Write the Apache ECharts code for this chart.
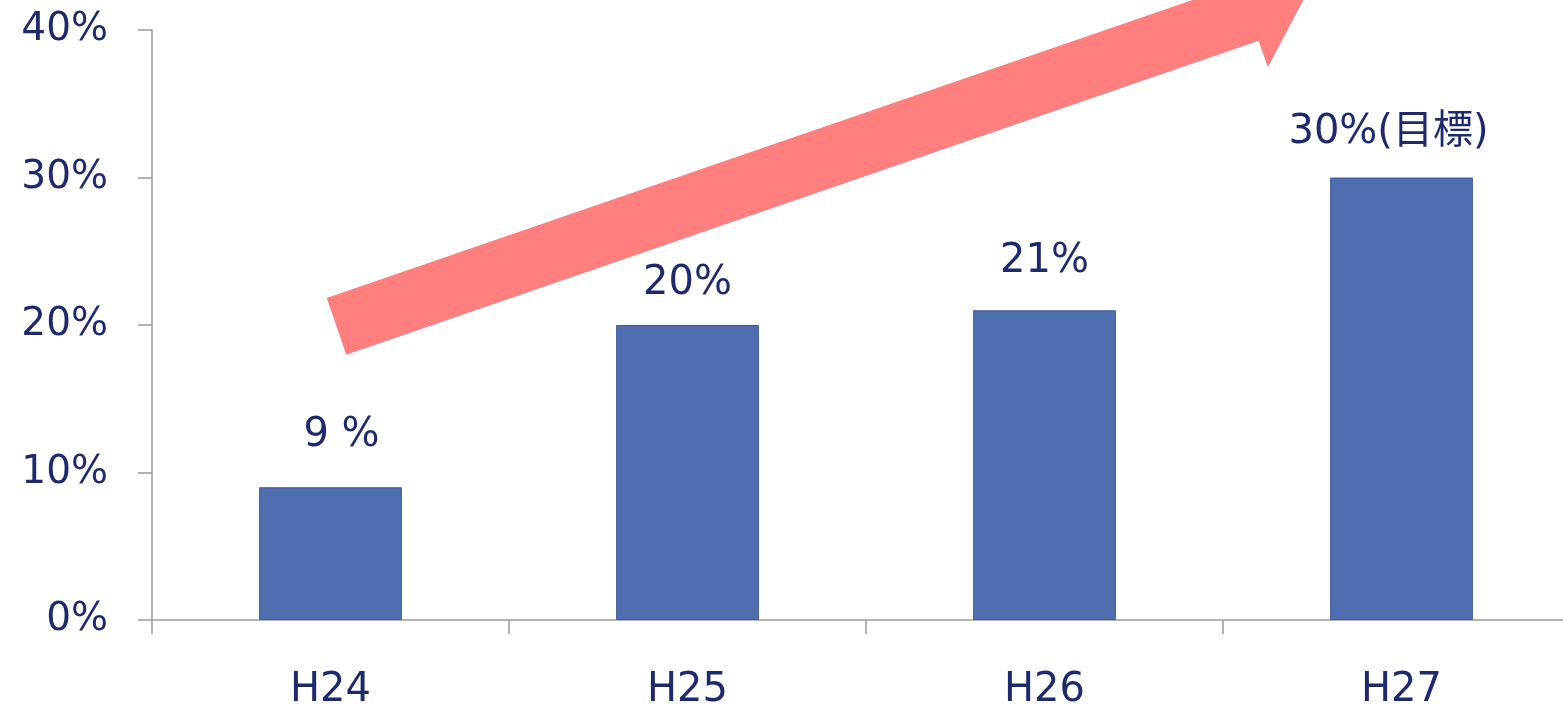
<!DOCTYPE html>
<html>
<head>
<meta charset="utf-8">
<script src="https://cdn.jsdelivr.net/npm/echarts@6/dist/echarts.min.js"></script>
<style>
html,body{margin:0;padding:0;background:#fff;}
#c{width:1563px;height:706px;}
</style>
</head>
<body>
<div id="c"></div>
<script>
var categories = ['H24', 'H25', 'H26', 'H27'];
var values = [9, 20, 21, 30];
var barLabels = ['9 %', '20%', '21%', '30%(目標)'];
var yTicks = [0, 10, 20, 30, 40];

var FONT = '"DejaVu Sans", Verdana, "Noto Sans CJK JP", sans-serif';
var TEXT = '#1f2a6e';
var AXIS = '#9a9a9a';
var labelShift = [[11, -7], [0, 4], [0, -4], [-13, 0]];

var chart = echarts.init(document.getElementById('c'), null, {renderer: 'canvas'});

var seriesData = values.map(function (v, i) {
  return {value: v, label: {offset: labelShift[i]}};
});

var option = {
  animation: false,
  backgroundColor: '#ffffff',
  grid: {left: 152, top: 30, width: 1428, height: 590, containLabel: false, outerBoundsMode: 'none'},
  xAxis: {
    type: 'category',
    data: categories,
    boundaryGap: true,
    axisLine: {show: true, lineStyle: {color: AXIS, width: 1.5}},
    axisTick: {show: true, length: 14, alignWithLabel: false, lineStyle: {color: AXIS, width: 1.5}},
    axisLabel: {color: TEXT, fontSize: 40, fontFamily: FONT, margin: 51}
  },
  yAxis: {
    type: 'value',
    min: yTicks[0],
    max: yTicks[yTicks.length - 1],
    interval: 10,
    axisLine: {show: true, lineStyle: {color: AXIS, width: 1.5}},
    axisTick: {show: true, length: 14, lineStyle: {color: AXIS, width: 1.5}},
    splitLine: {show: false},
    axisLabel: {color: TEXT, fontSize: 39, fontFamily: FONT, margin: 44, formatter: '{value}%'}
  },
  series: [{
    type: 'bar',
    data: seriesData,
    barWidth: '40%',
    itemStyle: {color: '#4e6eb0', borderColor: '#3f5c9a', borderWidth: 1},
    label: {
      show: true,
      position: 'top',
      distance: 25,
      color: TEXT,
      fontSize: 40,
      fontFamily: FONT,
      formatter: function (p) { return barLabels[p.dataIndex]; }
    },
    z: 2
  }]
};
chart.setOption(option);

// Decorative trend arrow, anchored to the H24 bar region via the chart's own scale
function drawArrow() {
  var tail = chart.convertToPixel({seriesIndex: 0}, [0, 19.9]);
  var tx = tail[0] + 6, ty = tail[1];
  var ang = -19 * Math.PI / 180;
  var dx = Math.cos(ang), dy = Math.sin(ang);
  var px = -dy, py = dx; // perpendicular (down-right)
  var bodyLen = 965, half = 30, headHalf = 58, headLen = 62;
  function pt(t, s) { return [tx + dx * t + px * s, ty + dy * t + py * s]; }
  var pts = [
    pt(0, -half), pt(bodyLen, -half), pt(bodyLen, -headHalf),
    pt(bodyLen + headLen, 0),
    pt(bodyLen, headHalf), pt(bodyLen, half), pt(0, half)
  ];
  chart.setOption({
    graphic: [{
      type: 'polygon',
      shape: {points: pts},
      style: {fill: '#ff7f7f'},
      z: 10
    }]
  });
}
drawArrow();
</script>
</body>
</html>
